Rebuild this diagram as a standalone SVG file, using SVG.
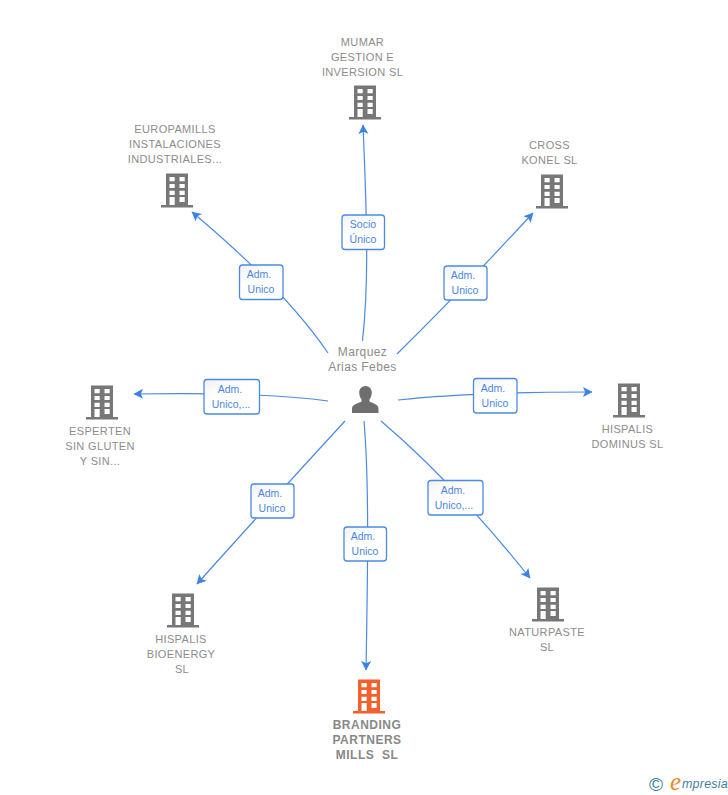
<svg xmlns="http://www.w3.org/2000/svg" xmlns:xlink="http://www.w3.org/1999/xlink" width="728" height="795" viewBox="0 0 728 795">
<style>
text{font-family:"Liberation Sans",Arial,sans-serif}
.n{font-size:11px;fill:#8c8c8c;text-anchor:middle;letter-spacing:.35px}
.b{font-size:12px;font-weight:bold;fill:#888;text-anchor:middle;letter-spacing:.5px}
.p{font-size:12px;fill:#8c8c8c;text-anchor:middle;letter-spacing:.4px}
.l{font-size:10.5px;fill:#4a86de;text-anchor:middle}
.c{fill:none;stroke:#4a8ae4;stroke-width:1.2;marker-end:url(#a)}
.r{fill:url(#g);stroke:#4a8ae4;stroke-width:1.3}
</style>
<defs>
<linearGradient id="g" x1="0" y1="0" x2="0.6" y2="1"><stop offset="0" stop-color="#f1f1f1"/><stop offset=".45" stop-color="#fff"/></linearGradient>
<marker id="a" markerUnits="userSpaceOnUse" markerWidth="14" markerHeight="14" refX="9" refY="5.500" orient="auto"><path d="M0 0.500L9.500 5.500L0 10.500L2.200 5.500Z" fill="#3b82e6"/></marker>
<path id="bld" fill-rule="evenodd" d="M5 0.500H27V32H32V34.500H0V32H5ZM8.500 4V8.200H13.700V4ZM18.500 4V8.200H23.700V4ZM8.500 11V15H13.700V11ZM18.500 11V15H23.700V11ZM8.500 17.700V22H13.700V17.700ZM18.500 17.700V22H23.700V17.700ZM8.500 24V32H13.700V24ZM18.500 24V29H23.700V24Z"/>
</defs>
<g id="connectors">
<path class="c" d="M362.500 341C368 290 368 240 363 125"/>
<path class="c" d="M328 353Q285 290 192 212"/>
<path class="c" d="M397 354Q460 292 533 213"/>
<path class="c" d="M328 401Q265 392 134 394"/>
<path class="c" d="M398 400Q470 392 592 392"/>
<path class="c" d="M345 421Q275 497 197 584"/>
<path class="c" d="M364 421C369 480 368 560 366 670"/>
<path class="c" d="M381 421Q455 484 530 578"/>
</g>
<g id="edge-labels">
<g><rect class="r" x="342" y="215" width="42.500" height="34.500" rx="3"/><text class="l" x="363" y="228">Socio</text><text class="l" x="363" y="243">Único</text></g>
<g><rect class="r" x="239.500" y="265" width="43.500" height="34.500" rx="3"/><text class="l" x="259" y="278">Adm.</text><text class="l" x="261" y="293">Unico</text></g>
<g><rect class="r" x="444" y="266" width="43" height="34" rx="3"/><text class="l" x="463" y="279">Adm.</text><text class="l" x="465" y="294">Unico</text></g>
<g><rect class="r" x="204" y="379.500" width="55.500" height="34.500" rx="3"/><text class="l" x="230" y="393">Adm.</text><text class="l" x="231" y="408">Unico,...</text></g>
<g><rect class="r" x="473.500" y="378.500" width="43.500" height="34.500" rx="3"/><text class="l" x="493" y="392">Adm.</text><text class="l" x="495" y="407">Unico</text></g>
<g><rect class="r" x="251" y="484" width="43" height="34" rx="3"/><text class="l" x="270" y="497">Adm.</text><text class="l" x="272" y="512">Unico</text></g>
<g><rect class="r" x="344" y="527" width="42.500" height="34" rx="3"/><text class="l" x="363" y="540">Adm.</text><text class="l" x="365" y="555">Unico</text></g>
<g><rect class="r" x="428" y="480.500" width="55" height="34.500" rx="3"/><text class="l" x="453" y="494">Adm.</text><text class="l" x="454" y="509">Unico,...</text></g>
</g>
<g id="person">
<text class="p" x="362.500" y="356">Marquez</text><text class="p" x="362.500" y="371">Arias Febes</text>
<path fill="#6f6f6f" d="M365.500 386C369.500 386 371.800 389 371.800 392.500C371.800 395.500 370.800 397.500 369.500 399.500V401.500C373 403.500 378.500 404 378.500 409V413H352V409C352 404 358 403.500 361.500 401.500V399.500C360.200 397.500 359.200 395.500 359.200 392.500C359.200 389 361.500 386 365.500 386Z"/>
</g>
<g id="mumar" fill="#777"><use xlink:href="#bld" x="349" y="85"/><text class="n" x="362.500" y="46">MUMAR</text><text class="n" x="362.500" y="61">GESTION E</text><text class="n" x="362.500" y="76">INVERSION SL</text></g>
<g id="europamills" fill="#777"><use xlink:href="#bld" x="161" y="173"/><text class="n" x="175" y="133">EUROPAMILLS</text><text class="n" x="175" y="148">INSTALACIONES</text><text class="n" x="175" y="163">INDUSTRIALES...</text></g>
<g id="cross" fill="#777"><use xlink:href="#bld" x="536" y="174"/><text class="n" x="549.500" y="149">CROSS</text><text class="n" x="549.500" y="164">KONEL SL</text></g>
<g id="esperten" fill="#777"><use xlink:href="#bld" x="86" y="385"/><text class="n" x="100" y="435">ESPERTEN</text><text class="n" x="100" y="450">SIN GLUTEN</text><text class="n" x="100" y="465">Y SIN...</text></g>
<g id="dominus" fill="#777"><use xlink:href="#bld" x="613" y="383"/><text class="n" x="627.500" y="433">HISPALIS</text><text class="n" x="627.500" y="448">DOMINUS SL</text></g>
<g id="bioenergy" fill="#777"><use xlink:href="#bld" x="167" y="593"/><text class="n" x="181" y="643">HISPALIS</text><text class="n" x="181" y="658">BIOENERGY</text><text class="n" x="182" y="673">SL</text></g>
<g id="naturpaste" fill="#777"><use xlink:href="#bld" x="532" y="587"/><text class="n" x="547" y="636">NATURPASTE</text><text class="n" x="547" y="651">SL</text></g>
<g id="branding"><use xlink:href="#bld" x="353" y="679" fill="#f4602c"/><text class="b" x="367" y="729">BRANDING</text><text class="b" x="367" y="744">PARTNERS</text><text class="b" x="367" y="759" xml:space="preserve">MILLS  SL</text></g>
<g id="footer"><text x="649" y="791" style="font-size:19px;fill:#3f7f9c">©</text><text x="670" y="790" style="font-family:'Liberation Serif',serif;font-size:25px;font-style:italic;fill:#f08a1e">e</text><text x="682" y="788" style="font-size:12.500px;font-style:italic;fill:#3f7f9c;letter-spacing:.2px">mpresia</text></g>
</svg>
